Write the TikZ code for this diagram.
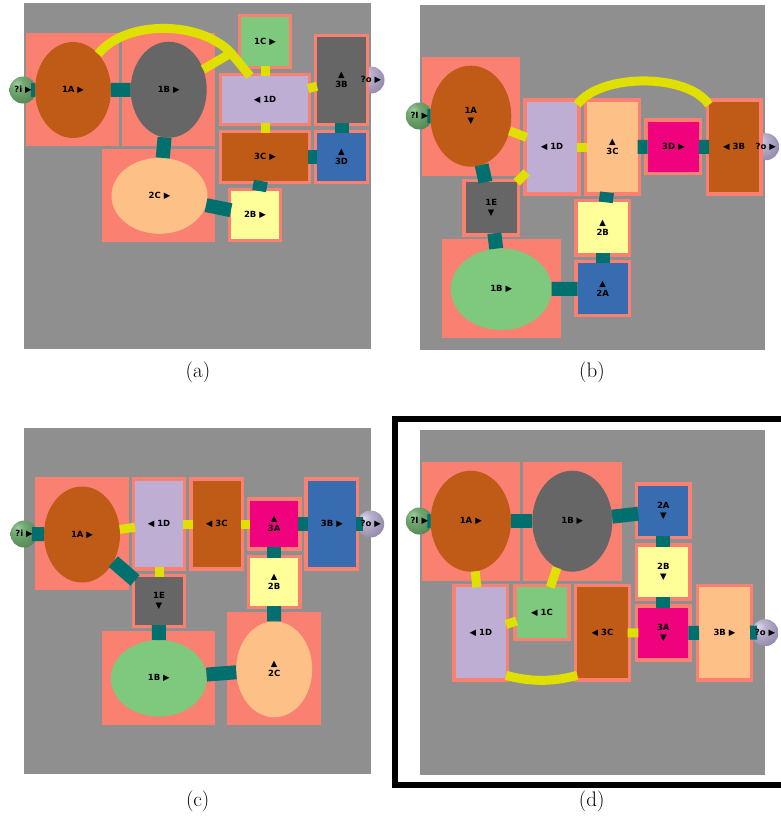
\documentclass[tikz,border=0pt]{standalone}
\usepackage{fontspec}
\newfontfamily\labf{DejaVu Sans}
\usetikzlibrary{shapes.geometric}
\definecolor{bgg}{RGB}{143,143,143}
\definecolor{salm}{RGB}{250,128,114}
\definecolor{tealc}{RGB}{0,112,110}
\definecolor{yelc}{RGB}{224,224,0}
\definecolor{cbrown}{RGB}{191,91,23}
\definecolor{cgray}{RGB}{102,102,102}
\definecolor{clav}{RGB}{190,174,212}
\definecolor{cpeach}{RGB}{253,192,134}
\definecolor{cyel}{RGB}{255,255,153}
\definecolor{cblue}{RGB}{56,108,176}
\definecolor{cmag}{RGB}{240,2,127}
\definecolor{cgreen}{RGB}{127,201,127}
\pgfdeclareradialshading{ballgreen}{\pgfpoint{-12bp}{12bp}}{%
  rgb(0bp)=(0.62,0.80,0.62); rgb(12bp)=(0.45,0.66,0.45); rgb(40bp)=(0.30,0.50,0.30);
  rgb(62bp)=(0.16,0.30,0.16); rgb(100bp)=(0.16,0.30,0.16)}
\pgfdeclareradialshading{ballpurple}{\pgfpoint{-12bp}{12bp}}{%
  rgb(0bp)=(0.86,0.84,0.92); rgb(12bp)=(0.72,0.69,0.80); rgb(40bp)=(0.55,0.51,0.64);
  rgb(62bp)=(0.34,0.30,0.42); rgb(100bp)=(0.34,0.30,0.42)}
\newcommand\labfont{\labf\bfseries\fontsize{8.5}{10}\selectfont}
\tikzset{
  rb/.style={rectangle, draw=salm, line width=3.4pt, outer sep=-1.7pt, inner sep=0pt, font=\labfont, align=center},
  el/.style={ellipse, inner sep=0pt, outer sep=0pt, font=\labfont, align=center},
  sph/.style={circle, minimum size=27pt, inner sep=0pt, outer sep=-5.5pt},
  lab/.style={font=\labfont, inner sep=0pt},
  tc/.style={draw=tealc, line width=14pt},
  yc/.style={draw=yelc, line width=9pt},
  capt/.style={font=\fontsize{21}{25}\selectfont, inner sep=0pt}
}
\newcommand\myRB[7]{\node[rb, fill=#2, minimum width={#5-#3+3.4}, minimum height={#6-#4+3.4}] (#1) at ({(#3+#5)/2},{(#4+#6)/2}) {#7};}
\newcommand\myEL[7]{\node[el, fill=#2, minimum width={2*#5}, minimum height={2*#6}] (#1) at (#3,#4) {#7};}
\newcommand\myPB[4]{\fill[salm] (#1,#2) rectangle (#3,#4);}
\newcommand\mySP[4]{\node[sph, shading=#2] (#1) at (#3,#4) {};}
\begin{document}
\begin{tikzpicture}[x=1pt,y=-1pt]
\useasboundingbox (0,0) rectangle (780,819);
\fill[white] (0,0) rectangle (780,819);
% gray backgrounds
\fill[bgg] (24,3) rectangle (371,349);
\fill[bgg] (420,5) rectangle (765,350);
\fill[bgg] (24,427.7) rectangle (370.7,774.3);
\fill[bgg] (420,430) rectangle (765,775);
% pink boxes around ellipses
\myPB{26}{33}{119}{146}
\myPB{122}{33}{215}{146}
\myPB{102}{149}{215}{242}
\myPB{421.7}{57}{520}{176}
\myPB{441.7}{239.3}{561}{338.3}
\myPB{35}{477.3}{129}{590}
\myPB{102.3}{631}{215}{725}
\myPB{227.3}{612.3}{321}{725}
\myPB{421.7}{462.3}{520}{580.7}
\myPB{523.3}{462.3}{621.7}{580.7}
% spheres
\mySP{aI}{ballgreen}{23}{90}
\mySP{aO}{ballpurple}{371}{80}
\mySP{bI}{ballgreen}{419.3}{116}
\mySP{bO}{ballpurple}{765.7}{146.7}
\mySP{cI}{ballgreen}{24}{534}
\mySP{cO}{ballpurple}{370.7}{524}
\mySP{dI}{ballgreen}{419.3}{521}
\mySP{dO}{ballpurple}{765}{632.7}
% ---------- panel (a)
\myEL{a1A}{cbrown}{73}{90}{38}{48}{1A ▶}
\myEL{a1B}{cgray}{168.7}{89.7}{38}{48}{1B ▶}
\myEL{a2C}{cpeach}{159.5}{195.8}{48}{38}{2C ▶}
\myRB{a1C}{cgreen}{241}{17}{289}{66}{1C ▶}
\myRB{a1D}{clav}{222}{76}{308}{123}{◀ 1D}
\myRB{a3B}{cgray}{317}{37}{366}{123}{▲\\3B}
\myRB{a3C}{cbrown}{222}{133}{308}{181}{3C ▶}
\myRB{a3D}{cblue}{317}{133}{366}{181}{▲\\3D}
\myRB{a2B}{cyel}{231}{191}{279}{239}{2B ▶}
% ---------- panel (b)
\myEL{b1A}{cbrown}{470.8}{116.2}{40.5}{50.5}{1A\\▼}
\myEL{b1B}{cgreen}{501.2}{289.2}{50.5}{40.8}{1B ▶}
\myRB{b1D}{clav}{526.7}{101.7}{577.3}{192.3}{◀ 1D}
\myRB{b3C}{cpeach}{587.3}{101.7}{637.7}{192.3}{▲\\3C}
\myRB{b3D}{cmag}{647.7}{121.7}{699}{171.7}{3D ▶}
\myRB{b3B}{cbrown}{709}{101.7}{759.3}{192.3}{◀ 3B}
\myRB{b1E}{cgray}{465.7}{182.3}{516.7}{233.3}{1E\\▼}
\myRB{b2B}{cyel}{577.7}{202.3}{627.7}{253.3}{▲\\2B}
\myRB{b2A}{cblue}{577.7}{263.3}{627.7}{314}{▲\\2A}
% ---------- panel (c)
\myEL{c1A}{cbrown}{82}{534.5}{38}{48}{1A ▶}
\myEL{c1B}{cgreen}{158.8}{678.3}{48}{38.3}{1B ▶}
\myEL{c2C}{cpeach}{274.2}{669.3}{38}{48}{▲\\2C}
\myRB{c1D}{clav}{135}{480.7}{183}{567.3}{◀ 1D}
\myRB{c3C}{cbrown}{192.7}{480.7}{240.7}{567.3}{◀ 3C}
\myRB{c3A}{cmag}{250}{500.7}{298.3}{547.3}{▲\\3A}
\myRB{c3B}{cblue}{307.7}{480.7}{356}{567.3}{3B ▶}
\myRB{c1E}{cgray}{135}{577.3}{183}{625}{1E\\▼}
\myRB{c2B}{cyel}{250}{558.3}{298.3}{606}{▲\\2B}
% ---------- panel (d)
\myEL{d1A}{cbrown}{470.8}{521.2}{40.2}{50.5}{1A ▶}
\myEL{d1B}{cgray}{572.3}{521.2}{40}{50.5}{1B ▶}
\myRB{d2A}{cblue}{638.3}{485.7}{688.3}{536}{2A\\▼}
\myRB{d2B}{cyel}{638.3}{546.7}{688.3}{597.3}{2B\\▼}
\myRB{d3A}{cmag}{638.3}{607.7}{688.3}{658.3}{3A\\▼}
\myRB{d3B}{cpeach}{699}{587.3}{750}{678.3}{3B ▶}
\myRB{d1D}{clav}{455.7}{587.3}{506}{678.3}{◀ 1D}
\myRB{d1C}{cgreen}{516.7}{587.3}{567.3}{637.7}{◀ 1C}
\myRB{d3C}{cbrown}{577.3}{587.3}{627.7}{678.3}{◀ 3C}
% ---------- connectors (a)
\draw[tc] (aI) -- (a1A);
\draw[tc] (a1A) -- (a1B);
\draw[tc] (a1B) -- (a2C);
\draw[tc] (a2C) -- (a2B);
\draw[tc] (a3C) -- (a2B);
\draw[tc] (a3C) -- (a3D);
\draw[tc] (a3B) -- (a3D);
\draw[yc] (a1C) -- (a1D);
\draw[yc] (a1D) -- (a3C);
\draw[yc] (a1D) -- (a3B);
\coordinate (aj) at (231,53);
\draw[yc] (a1A.55) .. controls (125,20) and (200,20) .. (aj) -- ([xshift=28pt]a1D.north west);
\draw[yc] (a1B) -- (aj);
% ---------- connectors (b)
\draw[tc] (bI) -- (b1A);
\draw[tc] (b1A) -- (b1E);
\draw[tc] (b1E) -- (b1B);
\draw[tc] (b1B) -- (b2A);
\draw[tc] (b2A) -- (b2B);
\draw[tc] (b2B) -- (b3C);
\draw[tc] (b3C) -- (b3D);
\draw[tc] (b3D) -- (b3B);
\draw[yc] (b1A) -- (b1D);
\draw[yc] (b1E) -- (b1D);
\draw[yc] (b1D) -- (b3C);
\draw[yc] ([yshift=-3pt]b1D.north east) .. controls (600,73) and (688,73) .. ([yshift=-3pt]b3B.north west);
% ---------- connectors (c)
\draw[tc] (cI) -- (c1A);
\draw[tc] (c1A) -- (c1E);
\draw[tc] (c1E) -- (c1B);
\draw[tc] (c1B) -- (c2C);
\draw[tc] (c2C) -- (c2B);
\draw[tc] (c2B) -- (c3A);
\draw[tc] (c3A) -- (c3B);
\draw[tc] (c3B) -- (cO);
\draw[yc] (c1A) -- (c1D);
\draw[yc] (c1D) -- (c1E);
\draw[yc] (c1D) -- (c3C);
\draw[yc] (c3C) -- (c3A);
% ---------- connectors (d)
\draw[tc] (dI) -- (d1A);
\draw[tc] (d1A) -- (d1B);
\draw[tc] (d1B) -- (d2A);
\draw[tc] (d2A) -- (d2B);
\draw[tc] (d2B) -- (d3A);
\draw[tc] (d3A) -- (d3B);
\draw[tc] (d3B) -- (dO);
\draw[yc] (d1A) -- (d1D);
\draw[yc] (d1B) -- (d1C);
\draw[yc] (d1C) -- (d1D);
\draw[yc] (d3C) -- (d3A);
\draw[yc] ([yshift=3pt]d1D.south east) .. controls (530,682) and (553,682) .. ([yshift=3pt]d3C.south west);
% sphere labels
\node[lab] (aIl) at (aI) {?i ▶};
\node[lab] (aOl) at (aO) {?o ▶};
\node[lab] (bIl) at (bI) {?I ▶};
\node[lab] (bOl) at (bO) {?o ▶};
\node[lab] (cIl) at (cI) {?i ▶};
\node[lab] (cOl) at (cO) {?o ▶};
\node[lab] (dIl) at (dI) {?I ▶};
\node[lab] (dOl) at (dO) {?o ▶};
% frame around (d)
\draw[line width=6pt] (781,419) -- (394.7,419) -- (394.7,784.7) -- (781,784.7);
% captions
\node[capt] (ca) at (198,372) {(a)};
\node[capt] (cb) at (592,372) {(b)};
\node[capt] (cc) at (197.7,801.7) {(c)};
\node[capt] (cd) at (591.7,801.7) {(d)};
\end{tikzpicture}
\end{document}
